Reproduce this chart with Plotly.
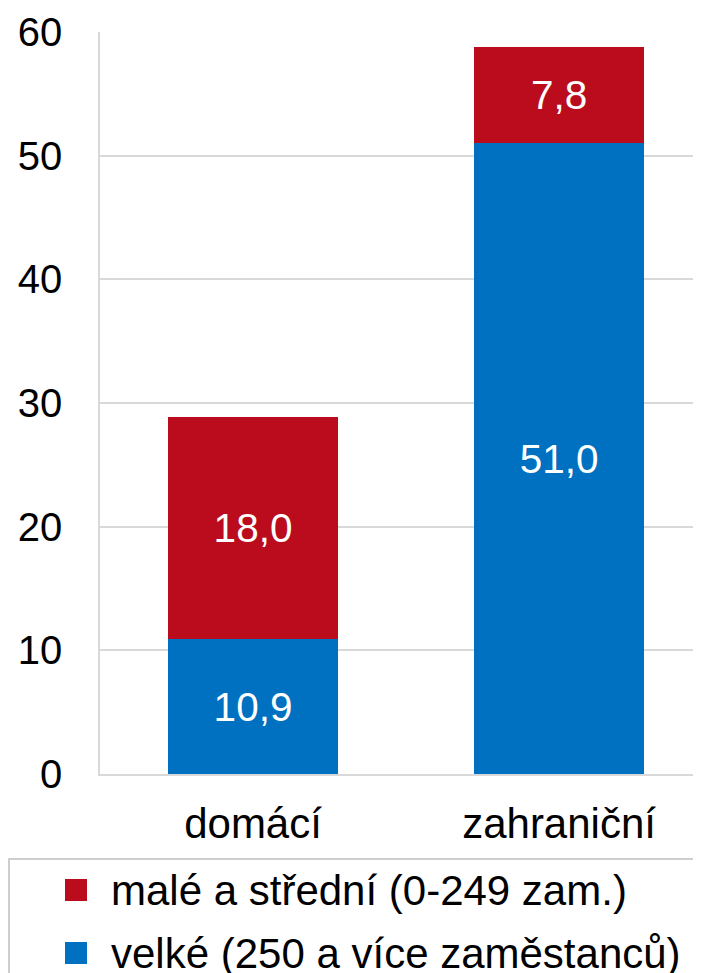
import plotly.graph_objects as go

categories = ["domácí", "zahraniční"]
series_names = ["velké (250 a více zaměstanců)", "malé a střední (0-249 zam.)"]
velke = [10.9, 51.0]
male_stredni = [18.0, 7.8]
series_values = [velke, male_stredni]
series_colors = ["#0070C0", "#BA0C1D"]
y_ticks = [0, 10, 20, 30, 40, 50, 60]

W, H = 701, 973
OFF = 8  # page body margin
ML, MR, MT, MB = 100 - OFF, 0, 32 - OFF, H - (774 - OFF)
FONT = "Liberation Sans, Arial, sans-serif"

fig = go.Figure()
for name, vals, col in zip(series_names, series_values, series_colors):
    fig.add_trace(go.Bar(
        x=categories, y=vals, name=name,
        marker=dict(color=col, line=dict(width=0)),
        width=0.556,
        texttemplate="%{y:.1f}", textposition="inside",
        insidetextanchor="middle", constraintext="none",
        textfont=dict(color="white", size=40.5, family=FONT),
        showlegend=False,
    ))

pw = W - ML - MR
ph = H - MT - MB
def px_x(p):
    return (p - OFF - ML) / pw
def px_y(p):
    return (H - MB - (p - OFF)) / ph

shapes = [dict(type="rect", xref="paper", yref="paper",
               x0=px_x(9), x1=px_x(740), y0=px_y(859), y1=px_y(1010),
               line=dict(color="#BFBFBF", width=1.5), fillcolor="rgba(0,0,0,0)", layer="above")]
annotations = []
legend_rows = [(series_names[1], series_colors[1], 890), (series_names[0], series_colors[0], 953)]
for name, col, cy in legend_rows:
    shapes.append(dict(type="rect", xref="paper", yref="paper",
                       x0=px_x(65), x1=px_x(87), y0=px_y(cy + 11), y1=px_y(cy - 11),
                       line=dict(width=0), fillcolor=col))
    annotations.append(dict(text=name, xref="paper", yref="paper",
                            x=px_x(109), y=px_y(cy), xanchor="left", yanchor="middle",
                            showarrow=False, font=dict(size=42, color="black", family=FONT)))

fig.update_layout(
    width=W, height=H,
    margin=dict(l=ML, r=MR, t=MT, b=MB, pad=0),
    barmode="stack",
    separators=", ",
    plot_bgcolor="white", paper_bgcolor="white",
    font=dict(family=FONT, size=40, color="black"),
    shapes=shapes, annotations=annotations,
    showlegend=False,
    xaxis=dict(type="category", range=[-0.5, 1.49], showgrid=False,
               showline=True, linecolor="#D9D9D9", linewidth=1.5,
               ticks="", ticklabelstandoff=12,
               tickfont=dict(size=42, family=FONT, color="black")),
    yaxis=dict(range=[0, 60], tickvals=y_ticks, showgrid=True,
               gridcolor="#D9D9D9", gridwidth=1.5,
               showline=True, linecolor="#D9D9D9", linewidth=1.5,
               ticks="", ticklabelstandoff=28, zeroline=False,
               tickfont=dict(size=40, family=FONT, color="black")),
)

fig.write_html("out.html")
